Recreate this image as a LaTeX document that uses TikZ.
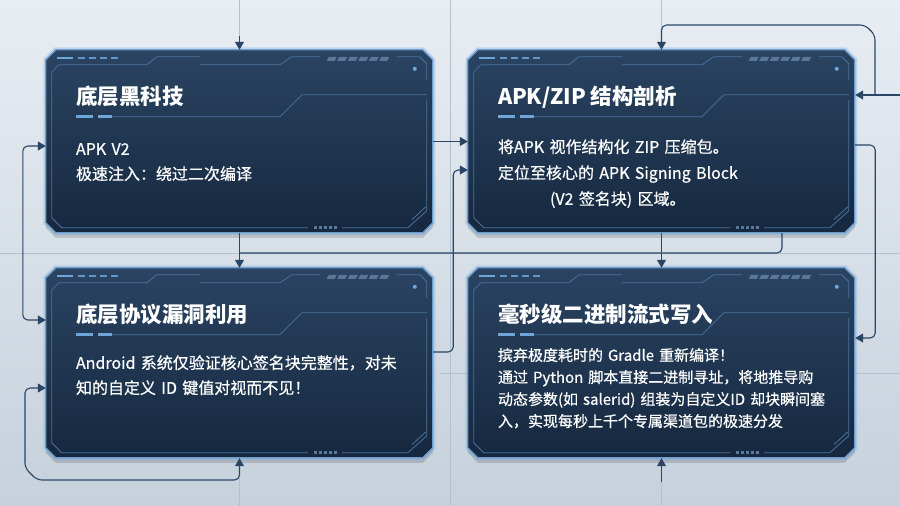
\documentclass[tikz,border=0pt]{standalone}
\usepackage{fontspec}
\setmainfont{Noto Sans CJK SC}
\newfontfamily\bodyfont[FakeBold=0.6]{Noto Sans CJK SC}
\usetikzlibrary{arrows.meta}
\definecolor{bgtop}{HTML}{E8EDF3}
\definecolor{bgbot}{HTML}{C6D1DC}
\definecolor{gridc}{HTML}{B3C0CD}
\definecolor{linec}{HTML}{2A4666}
\definecolor{paneltop}{HTML}{2A4462}
\definecolor{panelbot}{HTML}{16283F}
\definecolor{rimc}{HTML}{6C9DD0}
\definecolor{decoc}{HTML}{4A729E}
\definecolor{accent}{HTML}{6EA6DA}
\definecolor{dashc}{HTML}{5A7797}
\tikzset{
  panel/.style={minimum width=387pt, minimum height=#1, inner sep=0pt},
  outline/.style={insert path={(0,10) -- (10,0) -- (377,0) -- (387,10) -- (387,#1-10) -- (377,#1) -- (10,#1) -- (0,#1-10) -- cycle}},
  conn/.style={draw=linec, line width=1.1pt},
  gridline/.style={draw=gridc, line width=0.7pt},
  deco/.style={draw=decoc, line width=0.8pt},
  title/.style={font=\bfseries\fontsize{21.5pt}{26pt}\selectfont, text=white, inner sep=0pt, anchor=base west},
  body/.style={font=\bodyfont\fontsize{16pt}{25pt}\selectfont, text=white, inner sep=0pt, anchor=base west, align=left, text width=370pt},
}
\begin{document}
\begin{tikzpicture}[x=1pt, y=-1pt, >={Triangle[length=8pt,width=9pt]}]
    \useasboundingbox (0,0) rectangle (900,506);
    \shade[top color=bgtop, bottom color=bgbot] (0,0) rectangle (900,506);
    %% grid
    \foreach \gx in {239.5,450,661.5}
        \draw[gridline] (\gx,0) -- (\gx,506);
    \draw[gridline] (0,253) -- (900,253);
    \draw[gridline] (440,373) -- (900,373);
    %% panels
    \node[panel=183pt] (p1) at (239.5,141.5) {};
    \node[panel=183pt] (p2) at (661.5,141.5) {};
    \node[panel=190pt] (p3) at (239.5,363) {};
    \node[panel=190pt] (p4) at (661.5,363) {};
    \foreach \p/\h in {p1/183,p2/183,p3/190,p4/190} {
        \begin{scope}[shift={(\p.north west)}]
            \fill[black, opacity=0.14, yshift=-5pt, outline=\h];
            \draw[accent, opacity=0.3, line width=5pt, outline=\h];
            \path[top color=paneltop, bottom color=panelbot, draw=rimc, line width=1.3pt, outline=\h];
            %% inner frame
            \draw[deco] (6,\h-15) -- (6,22) -- (13,15) -- (101,15) -- (111,7) -- (154,7);
            \draw[deco] (154,15) -- (234,15) -- (246,7) -- (274,7);
            \draw[deco] (351,7) -- (374,7) -- (381,14) -- (381,30);
            \draw[deco] (6,\h-15) -- (16,\h-5) -- (262,\h-5);
            \draw[deco] (296,\h-5) -- (362,\h-5) -- (381,\h-22) -- (381,50);
            \draw[deco] (366,\h-13) -- (380,\h-26);
            \foreach \t in {0,...,4}
                \fill[dashc] (268+\t*5,\h-6.5) rectangle ++(3,2.5);
            \foreach \t in {0,...,5}
                \fill[dashc] (281+\t*10.5,11) -- ++(8,0) -- ++(2,-4) -- ++(-8,0) -- cycle;
            \fill[accent] (11,7) rectangle (27,9.5);
            \foreach \t in {0,...,3}
                \fill[accent!70!decoc] (32+\t*11,7) rectangle ++(7,2.5);
            \fill[accent] (369,19) circle (2pt);
            %% title rule
            \fill[accent] (30,65.5) rectangle (47,68);
            \fill[accent] (52,65.5) rectangle (66,68);
            \draw[deco] (66,67) -- (234,67) -- (256,45) -- (381,45);
        \end{scope}
    }
    %% texts
    \node[title] (t1) at ([shift={(30,55)}]p1.north west) {底层黑科技};
    \node[body] (b1) at ([shift={(30,105)}]p1.north west) {APK V2\\极速注入：绕过二次编译};
    \node[title] (t2) at ([shift={(30,55)}]p2.north west) {APK/ZIP 结构剖析};
    \node[body, font=\bodyfont\fontsize{16pt}{26pt}\selectfont] (b2) at ([shift={(30,103)}]p2.north west)
        {将APK 视作结构化 ZIP 压缩包。\\定位至核心的 APK Signing Block\\\hspace*{52pt}(V2 签名块) 区域。};
    \node[title] (t3) at ([shift={(30,55)}]p3.north west) {底层协议漏洞利用};
    \node[body] (b3) at ([shift={(30,101)}]p3.north west)
        {Android 系统仅验证核心签名块完整性，对未\\知的自定义 ID 键值对视而不见！};
    \node[title] (t4) at ([shift={(30,55)}]p4.north west) {毫秒级二进制流式写入};
    \node[body, font=\bodyfont\fontsize{15pt}{22pt}\selectfont] (b4) at ([shift={(30,93)}]p4.north west)
        {摈弃极度耗时的 Gradle 重新编译！\\通过 Python 脚本直接二进制寻址，将地推导购\\动态参数(如 salerid) 组装为自定义ID 却块瞬间塞\\入，实现每秒上千个专属渠道包的极速分发};
    %% connectors
    \coordinate (topin) at (239.5,36);
    \coordinate (hub) at (450,253);
    \coordinate (low) at (0,480);
    \coordinate (high) at (0,25);
    \coordinate (rin) at (900,95);
    \coordinate (rj) at (875,95);
    \coordinate (botin) at (661.5,482);
    \draw[conn, ->] (topin) -- (p1.north);
    \draw[conn, ->] (p1.east) -- (p2.west);
    \draw[conn, ->] (p1.south) -- (p3.north);
    \draw[conn, rounded corners=5pt] (p1.south |- hub) -| ([xshift=120.5pt]p2.south);
    \draw[conn, ->] (p2.south) -- (p4.north);
    \draw[conn, ->, rounded corners=5pt] ([yshift=11pt]p3.east) -- ++(20,0) |- ([yshift=-28.5pt]p2.west);
    \draw[conn, <->, rounded corners=5pt] ([yshift=-4.5pt]p1.west) -- ++(-23,0) |- ([yshift=43pt]p3.west);
    \draw[conn, <->, rounded corners=5pt] (p3.south) -- (p3.south |- low) -- (37,480) -- (25,468) -- (25,388) -- ([yshift=-25pt]p3.west);
    \draw[conn, ->] (rin) -- ([yshift=46.5pt]p2.east);
    \draw[conn, ->, rounded corners=5pt] (rj) -- (875,35) -- (865,25) -- (p2.north |- high) -- (p2.north);
    \draw[conn, ->, rounded corners=5pt] ([yshift=-3.5pt]p2.east) -- ++(20,0) |- ([yshift=25pt]p4.east);
    \draw[conn, ->] (botin) -- (p4.south);
\end{tikzpicture}
\end{document}
